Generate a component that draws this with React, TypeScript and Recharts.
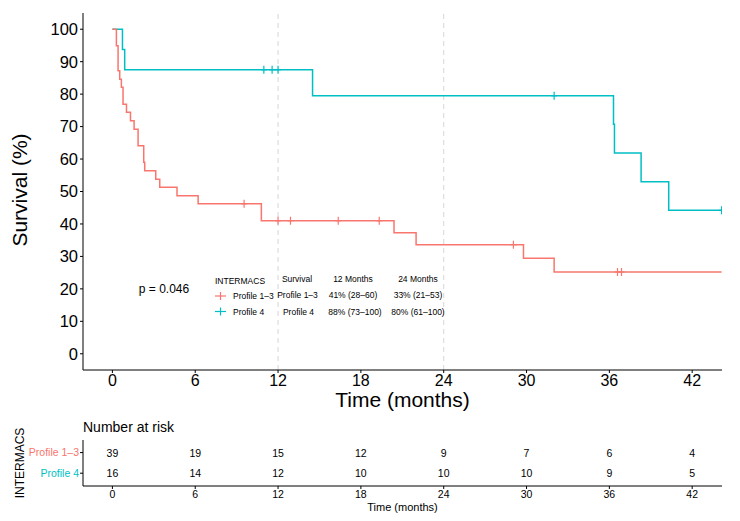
import React from 'react';
import { ComposedChart, Line, Scatter, XAxis, YAxis, ReferenceLine } from 'recharts';

const RED = '#F8766D';
const TEAL = '#00BFC4';
const FONT = '"Liberation Sans", Arial, Helvetica, sans-serif';

// Kaplan-Meier steps (months, survival %)
const profile13Times = [0, 0.29, 0.41, 0.53, 0.65, 0.77, 1.02, 1.31, 1.57, 1.86, 2.27, 2.34, 3.14, 3.43, 4.68, 6.21, 10.79, 20.4, 22.0, 29.78, 32.0, 44.13];
const profile13Surv = [100, 94.9, 87.2, 84.6, 82.1, 76.9, 74.4, 71.8, 69.2, 64.1, 59.0, 56.4, 53.8, 51.3, 48.7, 46.2, 41.0, 37.3, 33.6, 29.4, 25.2, 25.2];
const profile4Times = [0, 0.73, 0.89, 14.5, 36.3, 36.37, 38.3, 40.3, 44.13];
const profile4Surv = [100, 93.75, 87.5, 79.5, 70.7, 61.9, 53.0, 44.2, 44.2];

// censored observations
const profile13CensorTimes = [9.54, 12.0, 12.9, 16.36, 19.33, 29.05, 36.59, 36.88];
const profile13CensorSurv = [46.2, 41.0, 41.0, 41.0, 41.0, 33.6, 25.2, 25.2];
const profile4CensorTimes = [10.97, 11.57, 12.0, 32.0, 44.13];
const profile4CensorSurv = [87.5, 87.5, 87.5, 79.5, 44.2];

const timeTicks = [0, 6, 12, 18, 24, 30, 36, 42];
const survTicks = [0, 10, 20, 30, 40, 50, 60, 70, 80, 90, 100];

// number at risk
const riskTimes = [0, 6, 12, 18, 24, 30, 36, 42];
const profile13Risk = [39, 19, 15, 12, 9, 7, 6, 4];
const profile4Risk = [16, 14, 12, 10, 10, 10, 9, 5];

const X_DOMAIN: [number, number] = [-2.13, 44.16];

const toPoints = (ts: number[], ss: number[]) => ts.map((t, i) => ({ t, s: ss[i] }));

const CensorMark = (color: string) => (props: any) => {
  const { cx, cy } = props;
  if (cx == null || cy == null) return null;
  return (
    <g>
      <line x1={cx} x2={cx} y1={cy - 4} y2={cy + 4} stroke={color} strokeWidth={1.2} />
      <line x1={cx - 3} x2={cx + 3} y1={cy} y2={cy} stroke={color} strokeWidth={1.2} />
    </g>
  );
};

const RiskNumber = (props: any) => {
  const { cx, cy, payload } = props;
  return (
    <text x={cx} y={cy} textAnchor="middle" dominantBaseline="central" fontSize={10.5} fill="#000">
      {payload.n}
    </text>
  );
};

const RiskRowTick = ({ x, y, payload }: any) => {
  const isTop = payload.value === 2;
  return (
    <text x={x} y={y} dy="0.35em" textAnchor="end" fontSize={10.5} fill={isTop ? RED : TEAL}>
      {isTop ? 'Profile 1–3' : 'Profile 4'}
    </text>
  );
};

export default function App() {
  const redLine = toPoints(profile13Times, profile13Surv);
  const tealLine = toPoints(profile4Times, profile4Surv);
  const redCensor = toPoints(profile13CensorTimes, profile13CensorSurv);
  const tealCensor = toPoints(profile4CensorTimes, profile4CensorSurv);
  const riskRows = [
    ...profile13Risk.map((n, i) => ({ t: riskTimes[i], row: 2, n })),
    ...profile4Risk.map((n, i) => ({ t: riskTimes[i], row: 1, n })),
  ];

  return (
    <div style={{ position: 'absolute', left: 0, top: 0, width: 740, height: 521, background: '#fff', fontFamily: FONT }}>
      <div style={{ position: 'absolute', left: 0, top: 0 }}>
        <ComposedChart width={740} height={420} margin={{ top: 13, right: 18, bottom: 0, left: 0 }}>
          <XAxis
            type="number"
            dataKey="t"
            domain={X_DOMAIN}
            ticks={timeTicks}
            interval={0}
            allowDataOverflow
            height={50}
            tickSize={3}
            tickMargin={2}
            stroke="#000"
            tick={{ fontSize: 16, fill: '#000' }}
          />
          <YAxis
            type="number"
            dataKey="s"
            domain={[-5, 105]}
            ticks={survTicks}
            interval={0}
            allowDataOverflow
            width={83}
            tickSize={3}
            tickMargin={2}
            stroke="#000"
            tick={{ fontSize: 16.5, fill: '#000' }}
          />
          <ReferenceLine x={12} stroke="#d6d6d6" strokeDasharray="5 4" />
          <ReferenceLine x={24} stroke="#d6d6d6" strokeDasharray="5 4" />
          <Line data={tealLine} dataKey="s" type="stepAfter" stroke={TEAL} strokeWidth={1.5} dot={false} activeDot={false} isAnimationActive={false} />
          <Line data={redLine} dataKey="s" type="stepAfter" stroke={RED} strokeWidth={1.5} dot={false} activeDot={false} isAnimationActive={false} />
          <Scatter data={redCensor} dataKey="s" shape={CensorMark(RED)} isAnimationActive={false} />
          <Scatter data={tealCensor} dataKey="s" shape={CensorMark(TEAL)} isAnimationActive={false} />
        </ComposedChart>
      </div>

      <div style={{ position: 'absolute', left: 0, top: 420 }}>
        <ComposedChart width={740} height={101} margin={{ top: 20, right: 18, bottom: 0, left: 0 }}>
          <XAxis
            type="number"
            dataKey="t"
            domain={X_DOMAIN}
            ticks={riskTimes}
            interval={0}
            allowDataOverflow
            height={35}
            tickSize={3}
            tickMargin={2}
            stroke="#000"
            tick={{ fontSize: 10.5, fill: '#000' }}
          />
          <YAxis
            type="number"
            dataKey="row"
            domain={[0.38, 2.61]}
            ticks={[1, 2]}
            interval={0}
            allowDataOverflow
            width={83}
            tickSize={3}
            tickMargin={1}
            stroke="#000"
            tick={<RiskRowTick />}
          />
          <Scatter data={riskRows} dataKey="row" shape={RiskNumber} isAnimationActive={false} />
        </ComposedChart>
      </div>

      <svg width={740} height={521} style={{ position: 'absolute', left: 0, top: 0, pointerEvents: 'none' }}>
        <text x={19} y={190} transform="rotate(-90 19 190)" textAnchor="middle" dominantBaseline="central" fontSize={21} fill="#000">
          Survival (%)
        </text>
        <text x={402.5} y={407} textAnchor="middle" fontSize={21} fill="#000">Time (months)</text>

        <text x={164} y={293} textAnchor="middle" fontSize={12} fill="#000">p = 0.046</text>

        <text x={215} y={284} fontSize={8.5} fill="#000">INTERMACS</text>
        <line x1={215} x2={226} y1={296} y2={296} stroke={RED} strokeWidth={1.2} />
        <line x1={220.5} x2={220.5} y1={292} y2={300} stroke={RED} strokeWidth={1.2} />
        <text x={233} y={299} fontSize={8.5} fill="#000">Profile 1–3</text>
        <line x1={215} x2={226} y1={311.5} y2={311.5} stroke={TEAL} strokeWidth={1.2} />
        <line x1={220.5} x2={220.5} y1={307.5} y2={315.5} stroke={TEAL} strokeWidth={1.2} />
        <text x={233} y={314.5} fontSize={8.5} fill="#000">Profile 4</text>

        <text x={297} y={282} textAnchor="middle" fontSize={8.5} fill="#000">Survival</text>
        <text x={353} y={282} textAnchor="middle" fontSize={8.5} fill="#000">12 Months</text>
        <text x={418} y={282} textAnchor="middle" fontSize={8.5} fill="#000">24 Months</text>
        <text x={297.5} y={298} textAnchor="middle" fontSize={8.5} fill="#000">Profile 1–3</text>
        <text x={353} y={298} textAnchor="middle" fontSize={8.5} fill="#000">41% (28–60)</text>
        <text x={418} y={298} textAnchor="middle" fontSize={8.5} fill="#000">33% (21–53)</text>
        <text x={298.5} y={314.5} textAnchor="middle" fontSize={8.5} fill="#000">Profile 4</text>
        <text x={355} y={314.5} textAnchor="middle" fontSize={8.5} fill="#000">88% (73–100)</text>
        <text x={418} y={314.5} textAnchor="middle" fontSize={8.5} fill="#000">80% (61–100)</text>

        <text x={83} y={432} fontSize={14} fill="#000">Number at risk</text>
        <text x={20} y={463} transform="rotate(-90 20 463)" textAnchor="middle" dominantBaseline="central" fontSize={12} fill="#000">
          INTERMACS
        </text>
        <text x={402.5} y={510.5} textAnchor="middle" fontSize={11} fill="#000">Time (months)</text>
      </svg>
    </div>
  );
}
